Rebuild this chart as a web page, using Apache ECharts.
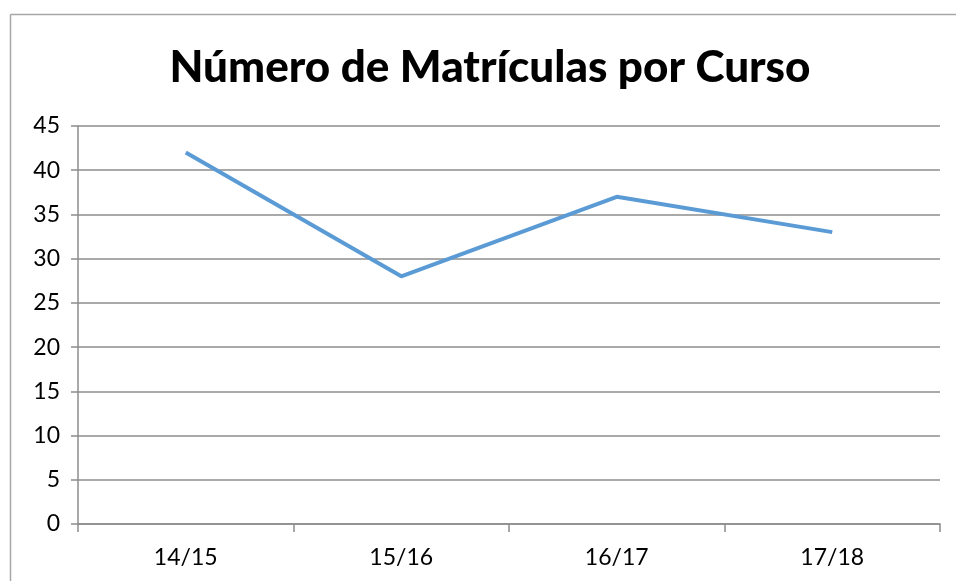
<!DOCTYPE html>
<html>
<head>
<meta charset="utf-8">
<style>
  html, body { margin: 0; padding: 0; background: #fff; overflow: hidden; }
  #chart { width: 956px; height: 581px; }
</style>
<script src="https://cdn.jsdelivr.net/npm/echarts@6/dist/echarts.min.js"></script>
</head>
<body>
<div id="chart"></div>
<script>
// cursos y matrículas
var cursos = ['14/15', '15/16', '16/17', '17/18']
var matriculas = [42, 28, 37, 33]

var chart = echarts.init(document.getElementById('chart'))
var font = 'Lato, "Noto Sans", sans-serif'
var borde = { stroke: '#a6a6a6', lineWidth: 1.5 }

chart.setOption({
  backgroundColor: '#fff',
  animation: false,
  title: {
    text: 'Número de Matrículas por Curso',
    left: 485,
    textAlign: 'center',
    top: 41,
    textStyle: {
      fontFamily: font,
      fontWeight: 900,
      fontSize: 44,
      color: '#000'
    }
  },
  // marco del gráfico, cortado a la derecha y abajo
  graphic: [
    { type: 'line', shape: { x1: 10.5, y1: 14.5, x2: 10.5, y2: 700 }, style: borde, silent: true },
    { type: 'line', shape: { x1: 10.5, y1: 14.5, x2: 1100, y2: 14.5 }, style: borde, silent: true }
  ],
  grid: {
    left: 78,
    right: 16,
    top: 126,
    bottom: 57
  },
  xAxis: {
    type: 'category',
    data: cursos,
    boundaryGap: true,
    axisLine: { lineStyle: { color: '#8c8c8c', width: 1.5 } },
    axisTick: { show: true, length: 8, lineStyle: { color: '#8c8c8c', width: 1.5 } },
    axisLabel: { margin: 22, fontFamily: font, fontSize: 23, color: '#000' }
  },
  yAxis: {
    type: 'value',
    min: 0,
    max: 45,
    interval: 5,
    axisLine: { show: true, lineStyle: { color: '#8c8c8c', width: 1.5 } },
    axisTick: { show: true, length: 7, lineStyle: { color: '#8c8c8c', width: 1.5 } },
    axisLabel: { margin: 18, fontFamily: font, fontSize: 23, color: '#000' },
    splitLine: { lineStyle: { color: '#8c8c8c', width: 1.5 } }
  },
  series: [
    {
      type: 'line',
      data: matriculas,
      symbol: 'none',
      lineStyle: { color: '#5b9bd5', width: 4 }
    }
  ]
})
</script>
</body>
</html>
